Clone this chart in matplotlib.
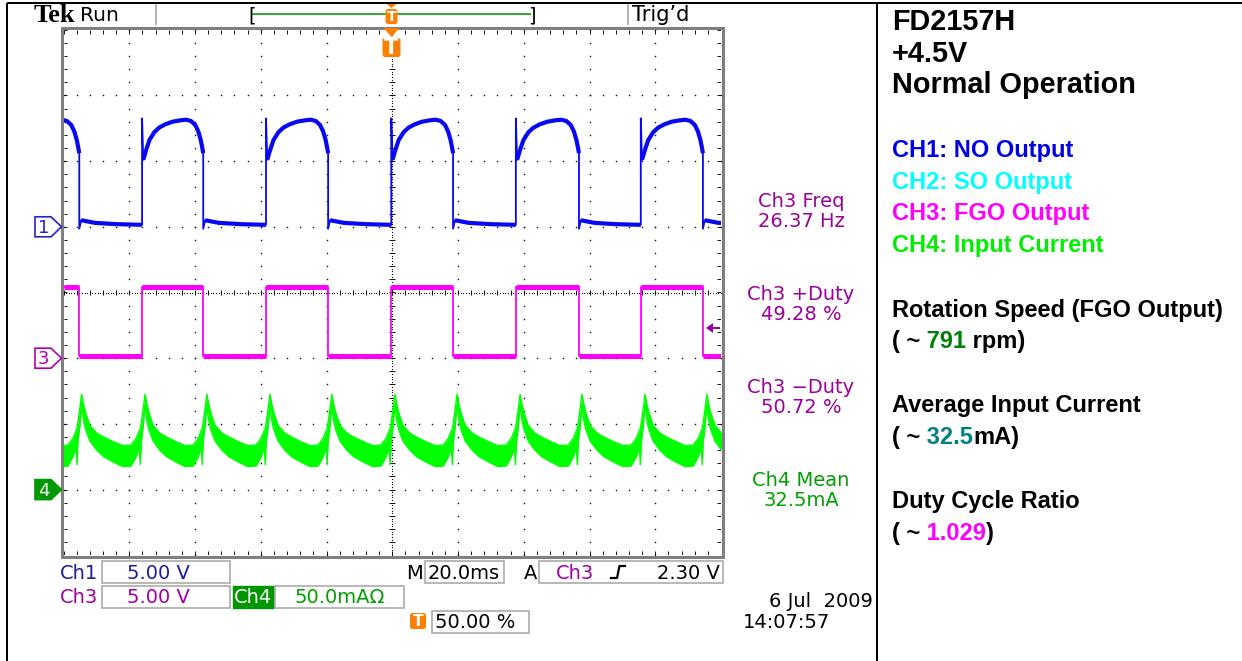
import numpy as np
import matplotlib
matplotlib.use("Agg")
from matplotlib import pyplot as plt
from matplotlib.patches import Rectangle, Polygon, FancyBboxPatch

W, H = 1242, 661

# waveform data: 20 ms/div, trigger at 0 ms, 10 x 8 divisions
# CH1 and CH3 switch together, falling edge first, then alternating
edges_ms = [-95.2, -76.1, -57.5, -38.4, -19.5, -0.3, 18.5, 37.6, 56.8, 75.6, 94.5]
half_ms = 18.8  # length of the pieces cut off at both screen edges

# CH1 (NO output): shape of a high part, fraction of the pulse -> div above ground
ch1_top_frac = [0, 0.02, 0.06, 0.12, 0.20, 0.28, 0.38, 0.50, 0.62, 0.72, 0.80, 0.87, 0.92, 0.96, 0.985, 1.0]
ch1_top_div = [1.65, 1.02, 1.15, 1.32, 1.44, 1.51, 1.56, 1.60, 1.62, 1.63, 1.61, 1.55, 1.45, 1.32, 1.20, 1.12]
ch1_low_frac = [0, 0.03, 0.25, 0.6, 1.0]
ch1_low_div = [-0.03, 0.10, 0.06, 0.04, 0.03]

# CH3 (FGO output) levels, div above ground
ch3_high_div = 1.08
ch3_low_div = 0.04

# CH4 (input current): peak times and envelope of the noisy trace between two peaks
ch4_peak_ms = [-94.5, -75.2, -56.4, -37.2, -18.4, 0.8, 19.7, 38.9, 57.7, 76.9, 95.7]
ch4_frac = [0, 0.03, 0.06, 0.13, 0.24, 0.35, 0.50, 0.65, 0.78, 0.86, 0.91, 0.925, 0.94, 0.97, 1.0]
ch4_upper_div = [1.45, 1.30, 1.18, 0.98, 0.86, 0.80, 0.73, 0.67, 0.68, 0.78, 0.90, 0.93, 1.02, 1.22, 1.45]
ch4_lower_div = [1.28, 1.05, 0.92, 0.74, 0.60, 0.50, 0.42, 0.35, 0.36, 0.50, 0.64, 0.38, 0.72, 0.95, 1.28]

ground_div = {"1": 1.0, "3": -1.0, "4": -3.0}

meas_labels = ["Ch3 Freq", "Ch3 +Duty", "Ch3 \u2212Duty", "Ch4 Mean"]
meas_values = ["26.37 Hz", "49.28 %", "50.72 %", "32.5mA"]
meas_colors = ["#9b009b", "#9b009b", "#9b009b", "#00a000"]

title_lines = ["FD2157H", "+4.5V", "Normal Operation"]
legend_lines = ["CH1: NO Output", "CH2: SO Output", "CH3: FGO Output", "CH4: Input Current"]
legend_colors = ["#0000e6", "#00ffff", "#ff00ff", "#00ee00"]
result_heads = ["Rotation Speed (FGO Output)", "Average Input Current", "Duty Cycle Ratio"]
result_values = [[("( ~", "k"), (" 791", "#008000"), (" rpm)", "k")],
                 [("( ~", "k"), (" 32.5", "#008080"), ("mA)", "k")],
                 [("( ~", "k"), (" 1.029", "#ff00ff"), (")", "k")]]

C_BLUE, C_MAG, C_GRN = "#0808f2", "#ff00ff", "#00ff00"
ORANGE = "#ff7f00"
PX = 0.72  # points per pixel at 100 dpi

fig = plt.figure(figsize=(W / 100, H / 100), dpi=100)
bg = fig.add_axes([0, 0, 1, 1])
bg.set_xlim(0, W)
bg.set_ylim(H, 0)
bg.axis("off")

# graticule area in pixels
gl, gr, gt, gb = 63.5, 721.0, 29.7, 555.3
sc = fig.add_axes([gl / W, 1 - gb / H, (gr - gl) / W, (gb - gt) / H], zorder=3)
sc.set_xlim(-100, 100)
sc.set_ylim(-4, 4)
sc.axis("off")
sc.patch.set_alpha(0)

# overlay for the markers that sit on top of the graticule
ov = fig.add_axes([0, 0, 1, 1], zorder=5)
ov.set_xlim(0, W)
ov.set_ylim(H, 0)
ov.axis("off")
ov.patch.set_alpha(0)

# --- graticule ---
bg.add_patch(Rectangle((gl - 1.5, gt - 1.5), gr - gl + 3, gb - gt + 3, fill=False,
                       ec="#7f7f7f", lw=3 * PX, zorder=2))
dot = dict(ls="none", marker="s", ms=1.0, mew=0, color="#111111", zorder=1)
yy = np.arange(-4, 4.001, 0.2)
xx = np.arange(-100, 100.01, 4)
for gx in range(-80, 81, 20):
    if gx != 0:
        sc.plot(np.full_like(yy, gx), yy, **dot)
for gy in [-3, -2, -1, 1, 2, 3]:
    sc.plot(xx, np.full_like(xx, gy), **dot)
fy = np.arange(-4, 4.001, 0.04)
fx = np.arange(-100, 100.01, 0.8)
sc.plot(np.zeros_like(fy), fy, **dict(dot, ms=0.8))
sc.plot(fx, np.zeros_like(fx), **dict(dot, ms=0.8))
tk = dict(color="#111111", lw=0.7, zorder=1)
sc.hlines(yy, -0.9, 0.9, **tk)
sc.vlines(xx, -0.045, 0.045, **tk)
sc.vlines(xx, 3.94, 4, **tk)
sc.vlines(xx, -4, -3.94, **tk)
sc.hlines(yy, -100, -98.8, **tk)
sc.hlines(yy, 98.8, 100, **tk)

# --- CH1 ---
falls = edges_ms[0::2]
rises = [edges_ms[0] - half_ms] + edges_ms[1::2]
nxt = edges_ms[1::2] + [edges_ms[-1] + half_ms]
g1 = ground_div["1"]
t1, y1, thick = [], [], []
for r, f, n in zip(rises, falls, nxt):
    th = r + (f - r) * np.array(ch1_top_frac)
    yh = g1 + np.array(ch1_top_div)
    tl = f + (n - f) * np.array(ch1_low_frac)
    yl = g1 + np.array(ch1_low_div)
    t1 += [th, tl]
    y1 += [yh, yl]
    thick += [(th[1:], yh[1:]), (tl[1:], yl[1:])]
sc.plot(np.concatenate(t1), np.concatenate(y1), color=C_BLUE, lw=1.3, zorder=4)
for a, b in thick:
    sc.plot(a, b, color=C_BLUE, lw=3.0, zorder=4, solid_capstyle="butt")

# --- CH3 ---
g3 = ground_div["3"]
t3 = [-100] + edges_ms + [100]
lv = [ch3_high_div if i % 2 == 0 else ch3_low_div for i in range(len(t3) - 1)]
sc.step(t3, [g3 + lv[0]] + [g3 + v for v in lv], where="pre", color=C_MAG, lw=1.3, zorder=4)
for i in range(len(t3) - 1):
    sc.plot([t3[i], t3[i + 1]], [g3 + lv[i]] * 2, color=C_MAG, lw=3.6, zorder=4,
            solid_capstyle="butt")

# --- CH4 ---
g4 = ground_div["4"]
pk = [ch4_peak_ms[0] - half_ms] + ch4_peak_ms + [ch4_peak_ms[-1] + half_ms]
t4, u4, l4 = [], [], []
for a, b in zip(pk[:-1], pk[1:]):
    t4.append(a + (b - a) * np.array(ch4_frac[:-1]))
    u4.append(ch4_upper_div[:-1])
    l4.append(ch4_lower_div[:-1])
t4 = np.concatenate(t4 + [[pk[-1]]])
u4 = g4 + np.concatenate(u4 + [[ch4_upper_div[-1]]])
l4 = g4 + np.concatenate(l4 + [[ch4_lower_div[-1]]])
sc.fill_between(t4, l4, u4, color=C_GRN, lw=0, zorder=4)
sc.plot(t4, u4, color=C_GRN, lw=1.0, zorder=4)
sc.plot(t4, l4, color=C_GRN, lw=1.0, zorder=4)

# --- channel markers at the left ---
def gy_px(div):
    return gt + (4 - div) * (gb - gt) / 8

for ch, ec, fc, tc in [("1", "#2525c0", "white", "#2525c0"), ("3", "#b000b0", "white", "#b000b0"),
                       ("4", "#009a00", "#009a00", "white")]:
    yc = gy_px(ground_div[ch])
    bg.add_patch(Polygon([(35, yc - 10), (51, yc - 10), (61.5, yc), (51, yc + 10), (35, yc + 10)],
                         closed=True, fc=fc, ec=ec, lw=1.2, zorder=2))
    bg.text(43.5, yc + 1, ch, color=tc, fontsize=13, ha="center", va="center",
            family="DejaVu Sans", zorder=3)

# trigger level arrow (2.30 V on CH3)
ya = gy_px(g3 + 2.30 / 5.0)
ov.add_patch(Polygon([(706, ya), (713, ya - 5), (713, ya + 5)], closed=True, fc="#a000a0",
                     ec="none", zorder=5))
ov.plot([712, 719], [ya, ya], color="#a000a0", lw=2 * PX, zorder=5)

# --- top status bar ---
bg.text(34, 22, "Tek", family="Liberation Serif", weight="bold", fontsize=19, color="k")
bg.text(80, 21, "Run", family="DejaVu Sans", fontsize=14.5, color="k")
for xs in [155.7, 627.7]:
    bg.plot([xs, xs], [4, 24], color="#b4b4b4", lw=2 * PX)
bg.plot([253, 530], [14, 14], color="#3aaa3a", lw=2 * PX)
bg.text(248, 21, "[", fontsize=14, family="DejaVu Sans", color="k")
bg.text(528, 21, "]", fontsize=14, family="DejaVu Sans", color="k")
bg.text(632, 21, "Trig\u2019d", family="DejaVu Sans", fontsize=15, color="k")

def t_marker(x, y0, w, h, size, tri=0):
    if tri:
        ov.add_patch(Polygon([(x - w / 2 + 1, y0 - tri), (x + w / 2 - 1, y0 - tri), (x, y0 - 1)],
                             closed=True, fc=ORANGE, ec="none", zorder=6))
    ov.add_patch(FancyBboxPatch((x - w / 2, y0), w, h, boxstyle="round,pad=0,rounding_size=2.5",
                                fc=ORANGE, ec="none", zorder=6))
    ov.text(x, y0 + h / 2 + 0.5, "T", color="white", fontsize=size, weight="bold",
            ha="center", va="center", family="DejaVu Sans", zorder=7)

t_marker(391.5, 9, 12, 15, 10, tri=5)
t_marker(391.5, 38, 18, 19, 15, tri=10)
t_marker(418, 613, 16, 16, 11)

# --- readouts below the graticule ---
box = dict(fill=False, ec="#a8a8a8", lw=1.6 * PX)
for x0, y0, x1, y1b in [(102, 561, 230, 583), (102, 586, 230, 608), (275, 586, 404, 608),
                        (425, 561, 504, 583), (539, 561, 723, 583), (432, 611, 529, 633)]:
    bg.add_patch(Rectangle((x0, y0), x1 - x0, y1b - y0, **box))
bg.add_patch(Rectangle((233, 586), 40, 22, fc="#009600", ec="#009600"))
sfont = dict(family="DejaVu Sans", fontsize=14)
bg.text(60, 579, "Ch1", color="#1c1c9c", **sfont)
bg.text(158, 579, "5.00 V", color="#1c1c9c", ha="center", **sfont)
bg.text(60, 603, "Ch3", color="#a000a0", **sfont)
bg.text(158, 603, "5.00 V", color="#a000a0", ha="center", **sfont)
bg.text(253, 603, "Ch4", color="white", ha="center", **sfont)
bg.text(340, 603, "50.0mA\u03a9", color="#00a000", ha="center", **sfont)
bg.text(406, 579, "M", color="k", **sfont)
bg.text(428, 579, "20.0ms", color="k", **sfont)
bg.text(524, 579, "A", color="k", **sfont)
bg.text(556, 579, "Ch3", color="#a000a0", **sfont)
bg.plot([611, 617, 619.5, 625], [578, 578, 566, 566], color="k", lw=2.2 * PX)
bg.text(720, 579, "2.30 V", color="k", ha="right", **sfont)
bg.text(435, 628, "50.00 %", color="k", **sfont)
bg.text(873, 607, "6 Jul  2009", color="k", ha="right", **sfont)
bg.text(743, 628, "14:07:57", color="k", **sfont)

# measurements on the right of the screen
for i, (lab, val, col) in enumerate(zip(meas_labels, meas_values, meas_colors)):
    yb = 207 + i * 93
    bg.text(801, yb, lab, color=col, ha="center", **sfont)
    bg.text(801, yb + 20, val, color=col, ha="center", **sfont)

# --- frame ---
fr = dict(color="k", lw=2 * PX, solid_capstyle="butt")
bg.plot([7, W], [3, 3], **fr)
bg.plot([7, 7], [3, H], **fr)
bg.plot([876.5, 876.5], [3, H], **fr)

# --- notes panel ---
nfont = dict(family="Liberation Sans", weight="bold")
for i, s in enumerate(title_lines):
    bg.text(892, 30 + i * 31.5, s, color="k", fontsize=20.8, **nfont)
for i, (s, c) in enumerate(zip(legend_lines, legend_colors)):
    bg.text(892, 157 + i * 31.7, s, color=c, fontsize=17, **nfont)

renderer = fig.canvas.get_renderer()
for i, (head, parts) in enumerate(zip(result_heads, result_values)):
    yb = 316.7 + i * 95.7
    bg.text(892, yb, head, color="k", fontsize=17, **nfont)
    prefix = ""
    for txt, col in parts:
        w = 0
        if prefix:
            probe = bg.text(0, 0, prefix, fontsize=17, **nfont)
            w = probe.get_window_extent(renderer).width
            probe.remove()
        bg.text(892 + w, yb + 31.5, txt, color=col, fontsize=17, **nfont)
        prefix += txt

fig.savefig("out.png", dpi=100)
